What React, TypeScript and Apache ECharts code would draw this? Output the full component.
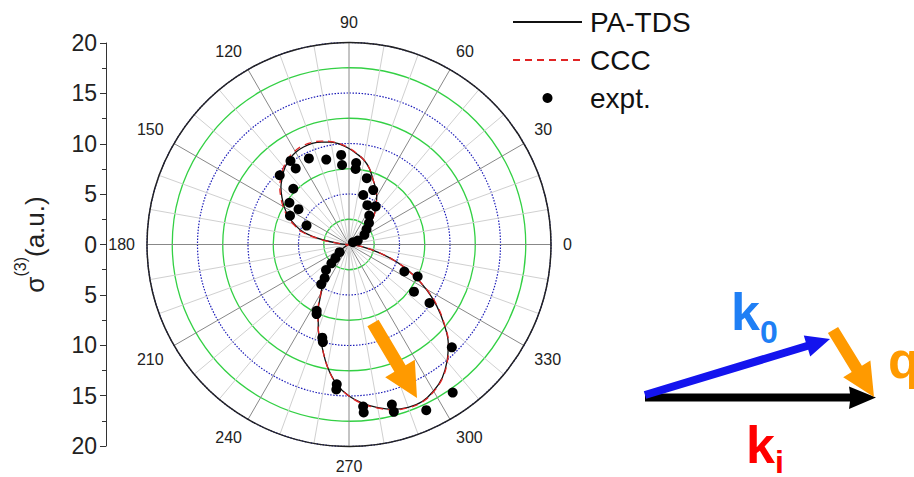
import React, { useEffect, useRef } from "react";
import * as echarts from "echarts";

const curveAngles = [
  0, 10, 20, 25, 30, 35, 40, 45, 50, 55, 60, 65, 70, 75, 80, 85, 90, 95, 100, 105, 110, 115, 120, 125,
  130, 135, 140, 145, 150, 155, 160, 165, 170, 175, 180, 190, 200, 205, 210, 215, 220, 225, 230, 235,
  240, 245, 250, 255, 260, 265, 270, 275, 280, 285, 290, 295, 300, 305, 310, 315, 320, 325, 330, 335,
  340, 345, 350, 355, 360,
];
const paTds = [
  0, 0, 0.05, 0.2, 0.7, 1.4, 2.2, 3.0, 3.9, 4.6, 5.5, 6.2, 6.9, 7.8, 8.5, 9.0, 9.5, 9.95, 10.3, 10.5, 10.65, 10.65, 10.55, 10.3,
  9.9, 9.35, 8.8, 8.1, 7.4, 6.6, 5.7, 4.6, 2.6, 0.8, 0.1, 0, 0, 0.2, 0.5, 1.0, 1.7, 2.5, 3.4, 4.5,
  5.5, 7.2, 8.9, 10.4, 12.3, 13.9, 15.0, 15.8, 16.4, 16.9, 17.15, 17.15, 16.75, 16.1, 15.1, 13.9, 12.3, 10.6, 8.8, 6.9,
  5.0, 3.0, 1.4, 0.4, 0,
];
const ccc = [
  0, 0, 0.05, 0.2, 0.7, 1.4, 2.2, 3.0, 3.9, 4.6, 5.5, 6.2, 6.9, 7.8, 8.5, 9.05, 9.55, 10.0, 10.35, 10.6, 10.75, 10.8, 10.7, 10.45,
  10.05, 9.5, 8.95, 8.25, 7.55, 6.75, 5.85, 4.8, 2.7, 0.8, 0.1, 0, 0, 0.2, 0.5, 1.0, 1.7, 2.5, 3.4, 4.5,
  5.6, 7.3, 8.9, 10.4, 12.3, 13.9, 15.0, 15.85, 16.45, 16.95, 17.2, 17.2, 16.8, 16.15, 15.15, 13.95, 12.35, 10.7, 8.85, 6.9,
  5.0, 3.0, 1.4, 0.4, 0,
];

const exptAngles = [
  24, 30, 32, 41, 47, 55, 55, 65, 66, 74, 75, 85, 85, 95, 95, 105, 115, 125, 125, 135, 135, 145, 145, 154, 156,
  219, 225, 227, 228, 234, 235, 244, 245, 254, 255, 265, 265, 275, 275, 285, 285, 295, 305, 315, 324, 324, 334, 335,
];
const exptValues = [
  0.95, 0.45, 1.8, 2.3, 2.9, 3.5, 4.6, 4.3, 5.9, 5.1, 6.8, 7.5, 8.1, 7.9, 8.9, 8.7, 9.4, 9.2, 10.1, 7.8, 9.7, 6.1, 7.2, 6.5, 4.6,
  1.2, 1.9, 2.55, 3.4, 4.1, 4.8, 7.3, 7.6, 9.6, 10.0, 13.9, 14.4, 16.1, 16.7, 16.4, 17.15, 18.1, 17.9, 14.4, 7.95, 9.85, 6.1, 7.5,
];

const seriesNames = ["PA-TDS", "CCC", "expt."];
const FONT = "'Liberation Sans', Arial, sans-serif";

export default function App() {
  const ref = useRef<HTMLDivElement>(null);
  useEffect(() => {
    if (!ref.current) return;
    const chart = echarts.init(ref.current, undefined, { renderer: "svg" });
    const pairs = (vals: number[], angs: number[]) => vals.map((v, i) => [v, angs[i]]);

    const orange = "#ff9a00";
    const option: any = {
      animation: false,
      backgroundColor: "#ffffff",
      textStyle: { fontFamily: FONT },
      legend: {
        orient: "vertical",
        left: 507,
        top: 2,
        itemWidth: 69,
        itemHeight: 10,
        itemGap: 8,
        data: [
          { name: seriesNames[0], itemStyle: { opacity: 0 } },
          { name: seriesNames[1], itemStyle: { opacity: 0 } },
          { name: seriesNames[2] },
        ],
        textStyle: { fontSize: 28, color: "#111", fontFamily: FONT, lineHeight: 30, padding: [0, 0, 0, 3] },
      },
      polar: { center: [349, 244.5], radius: 202 },
      angleAxis: {
        type: "value",
        min: 0,
        max: 360,
        interval: 30,
        startAngle: 0,
        clockwise: false,
        axisLine: { show: true, lineStyle: { color: "#222", width: 1.5 } },
        axisTick: { show: false },
        axisLabel: { fontSize: 16, color: "#222", margin: 12, fontFamily: FONT },
        splitLine: { show: true, lineStyle: { color: "#888", width: 1 } },
        minorTick: { show: false, splitNumber: 3 },
        minorSplitLine: { show: true, lineStyle: { color: "#d0d0d0", width: 1 } },
      },
      radiusAxis: {
        type: "value",
        min: 0,
        max: 20,
        interval: 5,
        axisLine: { show: false },
        axisTick: { show: false },
        axisLabel: { show: false },
        splitLine: {
          show: true,
          lineStyle: { color: "#1c1cb8", type: [1.5, 1.5], width: 1.2 },
        },
        minorTick: { show: false, splitNumber: 2 },
        minorSplitLine: { show: true, lineStyle: { color: "#33d044", width: 1.3 } },
      },
      grid: { left: 106, top: 43, height: 403, width: 1 },
      xAxis: { type: "value", show: false, min: 0, max: 1 },
      yAxis: {
        type: "value",
        min: -20,
        max: 20,
        interval: 5,
        axisLine: { show: true, lineStyle: { color: "#333", width: 1 } },
        axisTick: { show: true, length: 6, lineStyle: { color: "#333" } },
        minorTick: { show: true, splitNumber: 2, length: 4, lineStyle: { color: "#333" } },
        splitLine: { show: false },
        axisLabel: {
          fontSize: 23,
          color: "#222",
          margin: 9,
          fontFamily: FONT,
          formatter: (v: number) => String(Math.abs(v)),
        },
        name: "{s|σ}{p|(3)}{s|(a.u.)}",
        nameLocation: "middle",
        nameRotate: 90,
        nameGap: 58,
        nameTextStyle: {
          padding: [0, 0, 0, 0],
          rich: {
            s: { fontSize: 26, color: "#222", fontFamily: FONT, lineHeight: 36, verticalAlign: "bottom" },
            p: { fontSize: 16, color: "#222", fontFamily: FONT, lineHeight: 36, verticalAlign: "top" },
          },
        },
      },
      series: [
        {
          name: "PA-TDS",
          type: "line",
          coordinateSystem: "polar",
          data: pairs(paTds, curveAngles),
          symbol: "none",
          smooth: 0.4,
          lineStyle: { color: "#111", width: 1.3 },
          itemStyle: { color: "#111" },
          z: 3,
        },
        {
          name: "CCC",
          type: "line",
          coordinateSystem: "polar",
          data: pairs(ccc, curveAngles),
          symbol: "none",
          smooth: 0.4,
          lineStyle: { color: "#e02424", width: 1.3, type: [7, 5] },
          itemStyle: { color: "#e02424" },
          z: 4,
        },
        {
          name: "expt.",
          type: "scatter",
          coordinateSystem: "polar",
          data: pairs(exptValues, exptAngles),
          symbol: "circle",
          symbolSize: 10,
          itemStyle: { color: "#000", opacity: 1 },
          z: 5,
        },
      ],
      graphic: [
        {
          type: "polygon",
          z: 100,
          shape: { points: [[378.6, 319.7], [367.4, 326.3], [394.4, 371.8], [385.2, 377.3], [417, 398], [414.8, 359.7], [405.6, 365.2]] },
          style: { fill: orange },
        },
        {
          type: "polygon",
          z: 100,
          shape: { points: [[645, 393.5], [850, 393.5], [849, 386.5], [876, 397.5], [849, 409], [850, 401.5], [645, 401.5]] },
          style: { fill: "#000" },
        },
        {
          type: "polygon",
          z: 101,
          shape: { points: [[643.8, 391.2], [805.8, 342.2], [803.8, 335.5], [830, 339], [810.2, 356.5], [808.2, 349.8], [646.2, 398.8]] },
          style: { fill: "#1414ee" },
        },
        {
          type: "polygon",
          z: 101,
          shape: { points: [[838.1, 326.9], [861.9, 365.8], [870.4, 360.5], [874, 397], [843.2, 377.3], [851.7, 372], [827.9, 333.1]] },
          style: { fill: orange },
        },
        {
          type: "text",
          z: 102,
          style: { text: "k", x: 731, y: 312, fill: "#1f7ff5", font: `bold 52px ${FONT}`, textVerticalAlign: "middle" },
        },
        {
          type: "text",
          z: 102,
          style: { text: "0", x: 760, y: 332, fill: "#1f7ff5", font: `bold 32px ${FONT}`, textVerticalAlign: "middle" },
        },
        {
          type: "text",
          z: 102,
          style: { text: "k", x: 746, y: 445, fill: "#ff0000", font: `bold 52px ${FONT}`, textVerticalAlign: "middle" },
        },
        {
          type: "text",
          z: 102,
          style: { text: "i", x: 775, y: 462, fill: "#ff0000", font: `bold 32px ${FONT}`, textVerticalAlign: "middle" },
        },
        {
          type: "text",
          z: 102,
          style: { text: "q", x: 888, y: 360, fill: orange, font: `bold 52px ${FONT}`, textVerticalAlign: "middle" },
        },
      ],
    };
    chart.setOption(option);
    return () => chart.dispose();
  }, []);
  return (
    <div
      ref={ref}
      style={{ position: "fixed", left: 0, top: 0, width: 914, height: 477, background: "#fff" }}
    />
  );
}
